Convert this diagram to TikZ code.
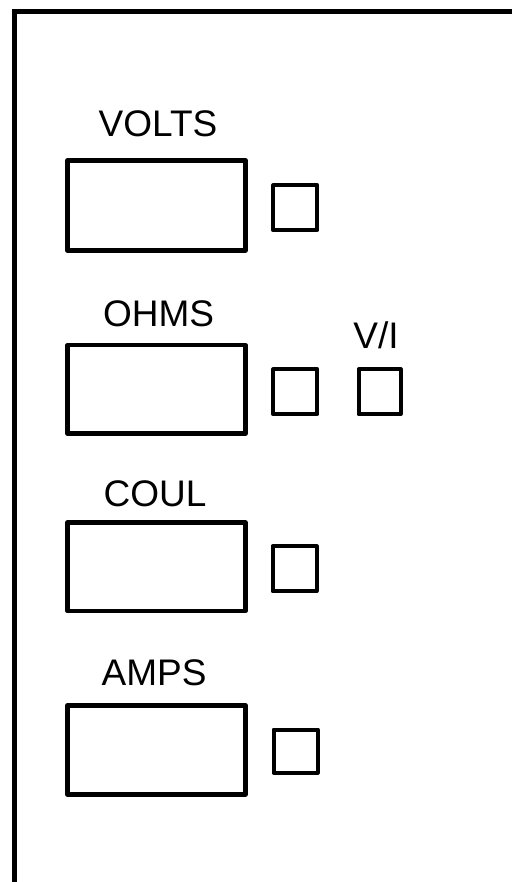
\documentclass[tikz,border=0pt]{standalone}
\usepackage{fontspec}
\setmainfont{Liberation Sans}
\begin{document}
\begin{tikzpicture}[x=1pt,y=-1pt,
  bigbox/.style={draw, line width=4.2pt, minimum width=178pt, minimum height=90pt, inner sep=0pt, line join=round},
  smallbox/.style={draw, line width=4pt, minimum width=44pt, minimum height=45pt, inner sep=0pt, line join=round},
  lbl/.style={font=\fontsize{37}{37}\selectfont, inner sep=0pt, anchor=base}]
\useasboundingbox (0,0) rectangle (512,882);
\coordinate (tr) at (512,11.5);
\coordinate (tl) at (14.5,11.5);
\coordinate (bl) at (14.5,882);
\draw[line width=4.2pt] (tr) -- (tl) -- (bl);

\node[lbl] (tvolts) at (158,136.5) {VOLTS};
\node[bigbox] (bvolts) at (156.5,205.5) {};
\node[smallbox] (svolts) at (295.3,207.7) {};

\node[lbl] (tohms) at (158.5,326) {OHMS};
\node[bigbox, minimum height=88.5pt] (bohms) at (156.5,389.3) {};
\node[smallbox] (sohms) at (295.3,391.7) {};
\node[lbl] (tvi) at (376,348) {V/I};
\node[smallbox, minimum width=42pt] (svi) at (379.5,391.7) {};

\node[lbl] (tcoul) at (155,506) {COUL};
\node[bigbox, minimum height=88.5pt] (bcoul) at (156.5,566.8) {};
\node[smallbox] (scoul) at (294.5,568.7) {};

\node[lbl] (tamps) at (154,685) {AMPS};
\node[bigbox, minimum height=89pt] (bamps) at (156.5,750) {};
\node[smallbox, minimum height=43pt] (samps) at (295.5,751) {};
\end{tikzpicture}
\end{document}
